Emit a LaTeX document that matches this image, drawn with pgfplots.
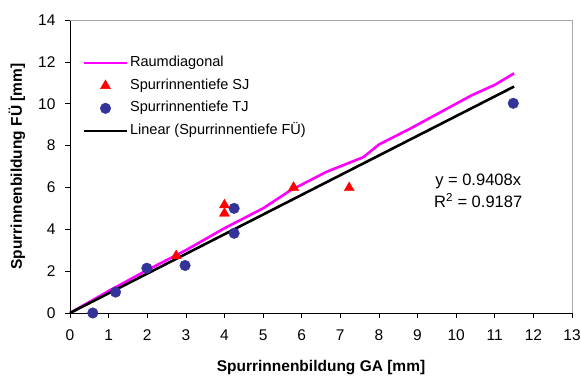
\documentclass[border=0pt]{standalone}
\usepackage{pgfplots}
\pgfplotsset{compat=1.18}
\usepackage{fontspec}
\setmainfont{Liberation Sans}
\definecolor{tjblue}{RGB}{51,51,153}
\definecolor{mag}{RGB}{255,0,255}
\begin{document}
\begin{tikzpicture}
\begin{axis}[
  scale only axis, width=502pt, height=293pt,
  xmin=0, xmax=13, ymin=0, ymax=14,
  xtick={0,1,...,13}, ytick={0,2,...,14},
  axis x line=bottom, axis y line=left,
  axis line style={-, black, line width=0.8pt},
  tick align=outside, major tick length=5pt,
  tick style={black, line width=0.6pt},
  /pgf/number format/assume math mode=true,
  ticklabel style={font=\fontsize{15.5}{18}\selectfont},
  xticklabel style={yshift=-8pt},
  yticklabel style={xshift=-6pt},
  xlabel={\textbf{Spurrinnenbildung GA [mm]}},
  ylabel={\textbf{Spurrinnenbildung FÜ [mm]}},
  label style={font=\fontsize{15.5}{18}\selectfont},
  xlabel style={at={(axis description cs:0.5,-0.1877)}, anchor=center},
  ylabel style={at={(axis description cs:-0.1056,0.5)}, anchor=center},
  clip=false,
  legend style={draw=none, fill=none, at={(axis cs:0.25,12.45)}, anchor=north west,
    font=\fontsize{14.5}{17}\selectfont, row sep=5.6pt,
    nodes={text height=10pt, text depth=3pt}},
  legend cell align=left,
  legend image code/.code={\draw[mark repeat=2,mark phase=2] plot coordinates {(0cm,0cm) (0.75cm,0cm) (1.5cm,0cm)};},
]
\draw[gray!70, line width=0.8pt] (rel axis cs:0,1) -- (rel axis cs:1,1) -- (rel axis cs:1,0);
\addplot[color=mag, line width=2.6pt, no marks] coordinates {
 (0,0) (1,1.05) (2,2.05) (3,3.0) (4,4.05) (5,5.0) (5.7,5.85) (6.65,6.75) (7.6,7.45) (8.0,8.05) (8.8,8.8) (9.7,9.7) (10.4,10.4) (11.0,10.9) (11.5,11.45)};
\addlegendentry{Raumdiagonal}
\addplot[only marks, mark=triangle*, mark size=5.8pt, color=red, fill=red] coordinates {
 (2.75,2.73) (4.0,5.16) (4.0,4.76) (5.79,6.0) (7.23,5.98)};
\addlegendentry{Spurrinnentiefe SJ}
\addplot[only marks, mark=*, mark size=5.3pt, color=tjblue, fill=tjblue] coordinates {
 (0.59,0) (1.18,1.0) (1.99,2.14) (2.98,2.27) (4.25,5.0) (4.25,3.81) (11.48,10.02)};
\addlegendentry{Spurrinnentiefe TJ}
\addplot[black, line width=2.6pt, no marks] coordinates {(0,0) (11.5,10.819)};
\addlegendentry{Linear (Spurrinnentiefe FÜ)}
\node[font=\fontsize{16.5}{20}\selectfont, align=center] at (axis cs:10.57,5.83) {y = 0.9408x\\[1.5pt]R\textsuperscript{2} = 0.9187};
\end{axis}
\pgfresetboundingbox
\path (current axis.south west) ++(-70pt,-66pt) rectangle ([shift={(9pt,20pt)}]current axis.north east);
\end{tikzpicture}
\end{document}
